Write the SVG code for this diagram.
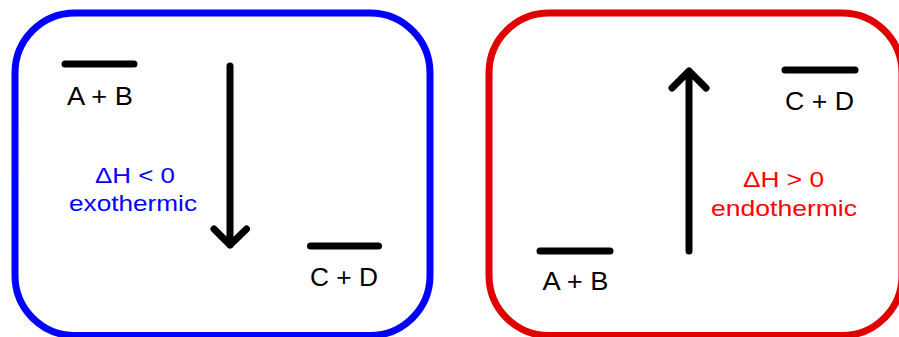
<svg xmlns="http://www.w3.org/2000/svg" width="899" height="337" viewBox="0 0 899 337">
  <style>
    .frame { fill: none; stroke-width: 7; }
    .blue { stroke: #0000ff; }
    .red { stroke: #e00000; }
    .level { stroke: #000; stroke-width: 7; stroke-linecap: round; }
    .arrow { fill: none; stroke: #000; stroke-width: 7; stroke-linecap: round; stroke-linejoin: round; }
    .lbl { font-family: "Liberation Sans", Arial, sans-serif; font-size: 26px; fill: #000; text-anchor: middle; }
    .dh { font-family: "Liberation Sans", Arial, sans-serif; font-size: 22px; text-anchor: middle; }
  </style>
  <rect width="899" height="337" fill="#fff"/>

  <g id="exo-panel">
    <rect class="frame blue" x="15" y="13" width="415" height="322.5" rx="60" ry="60"/>
  </g>
  <g id="endo-panel">
    <rect class="frame red" x="489" y="13" width="413" height="322.5" rx="60" ry="60"/>
  </g>

  <g id="exo-reactants">
    <line class="level" x1="65" y1="64" x2="134" y2="64"/>
    <text class="lbl" x="100" y="105" textLength="66" lengthAdjust="spacingAndGlyphs">A + B</text>
  </g>
  <g id="exo-products">
    <line class="level" x1="310.5" y1="246" x2="378.5" y2="246"/>
    <text class="lbl" x="344" y="286" textLength="68" lengthAdjust="spacingAndGlyphs">C + D</text>
  </g>
  <g id="exo-label">
    <text class="dh" x="135" y="183" fill="#0000ff" textLength="80" lengthAdjust="spacingAndGlyphs">ΔH &lt; 0</text>
    <text class="dh" x="133" y="210.5" fill="#0000ff" textLength="128" lengthAdjust="spacingAndGlyphs">exothermic</text>
  </g>

  <g id="endo-reactants">
    <line class="level" x1="540" y1="251" x2="610" y2="251"/>
    <text class="lbl" x="575.5" y="290" textLength="66" lengthAdjust="spacingAndGlyphs">A + B</text>
  </g>
  <g id="endo-products">
    <line class="level" x1="785" y1="70" x2="855" y2="70"/>
    <text class="lbl" x="819.5" y="110" textLength="69" lengthAdjust="spacingAndGlyphs">C + D</text>
  </g>
  <g id="endo-label">
    <text class="dh" x="783.5" y="187" fill="#ff0000" textLength="81" lengthAdjust="spacingAndGlyphs">ΔH &gt; 0</text>
    <text class="dh" x="784" y="216" fill="#ff0000" textLength="146" lengthAdjust="spacingAndGlyphs">endothermic</text>
  </g>

  <g id="connectors">
    <path class="arrow" d="M230 66 V245 M214 229 L230 245 L246.5 229"/>
    <path class="arrow" d="M689 251 V71 M672 88 L689 71 L706 88"/>
  </g>
</svg>
